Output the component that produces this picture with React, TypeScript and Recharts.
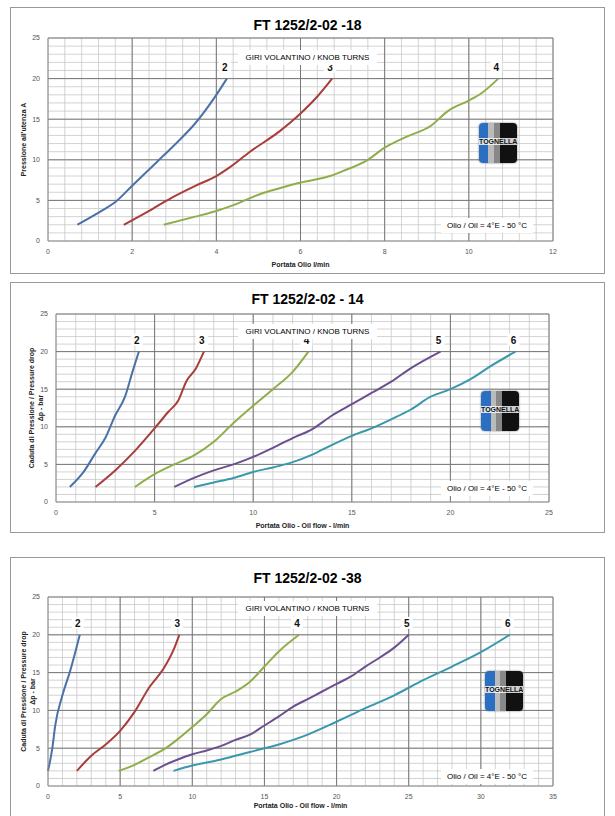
import React from 'react'
import { LineChart, Line, XAxis, YAxis, CartesianGrid, ReferenceLine, LabelList, Label } from 'recharts'

type Pt = { x: number; y: number }
const pts = (a: number[][]): Pt[] => a.map(([x, y]) => ({ x, y }))

// FT 1252/2-02 -18
const turns18 = ['2', '3', '4']
const ft18_2 = pts([[0.7, 2], [1.3, 3.8], [1.6, 4.8], [2, 6.8], [2.6, 9.8], [3, 11.8], [3.5, 14.5], [4, 18], [4.25, 20]])
const ft18_3 = pts([[1.8, 2], [2.5, 4], [3, 5.5], [3.5, 6.8], [4, 8], [4.3, 9], [4.8, 11], [5.5, 13.5], [6, 15.7], [6.4, 17.8], [6.75, 20]])
const ft18_4 = pts([[2.75, 2], [3.5, 3], [4, 3.7], [4.5, 4.6], [5, 5.7], [5.5, 6.5], [6, 7.2], [6.7, 8], [7, 8.6], [7.6, 10], [8, 11.5], [8.5, 12.8], [9.1, 14.2], [9.5, 16], [10, 17.3], [10.3, 18.2], [10.7, 20]])

// FT 1252/2-02 - 14
const turns14 = ['2', '3', '4', '5', '6']
const ft14_2 = pts([[0.7, 2], [1.4, 4], [2, 6.5], [2.5, 8.5], [3, 11.5], [3.5, 14], [3.9, 17.5], [4.2, 20]])
const ft14_3 = pts([[2, 2], [3, 4.2], [4, 6.8], [5, 9.8], [5.7, 12], [6.2, 13.5], [6.6, 16], [7.1, 17.8], [7.5, 20]])
const ft14_4 = pts([[4, 2], [5, 3.7], [6, 5], [7, 6.2], [8, 8], [9, 10.5], [10, 12.8], [11, 15], [12, 17.3], [12.8, 20]])
const ft14_5 = pts([[6, 2], [7, 3.2], [8, 4.2], [9, 5], [10, 6], [11, 7.2], [12, 8.5], [13, 9.7], [14, 11.5], [15, 13], [16, 14.5], [17, 16], [18, 17.8], [19.5, 20]])
const ft14_6 = pts([[7, 2], [8, 2.6], [9, 3.2], [10, 4], [11, 4.6], [12, 5.3], [13, 6.3], [14, 7.6], [15, 8.8], [16, 9.8], [17, 11], [18, 12.3], [19, 14], [20, 15], [21, 16.3], [22, 18], [23.3, 20]])

// FT 1252/2-02 -38
const turns38 = ['2', '3', '4', '5', '6']
const ft38_2 = pts([[0, 2], [0.3, 5], [0.5, 8], [1, 12], [1.5, 15], [2.2, 20]])
const ft38_3 = pts([[2, 2], [3, 4], [4, 5.5], [5, 7.3], [6, 9.8], [7, 13], [8, 15.5], [8.7, 18], [9.1, 20]])
const ft38_4 = pts([[4.9, 2], [6, 2.8], [7, 3.8], [8, 4.8], [9, 6.2], [10, 7.8], [11, 9.5], [12, 11.5], [13, 12.5], [14, 13.8], [15, 15.8], [16, 17.8], [17.4, 20]])
const ft38_5 = pts([[7.3, 2], [8, 2.7], [9, 3.5], [10, 4.2], [11, 4.7], [12, 5.3], [13, 6.1], [14, 6.8], [15, 8], [16, 9.2], [17, 10.5], [18, 11.5], [19, 12.5], [20, 13.5], [21, 14.5], [22, 15.8], [23, 17], [24, 18.3], [25, 20]])
const ft38_6 = pts([[8.7, 2], [10, 2.7], [12, 3.5], [14, 4.5], [16, 5.5], [18, 6.8], [20, 8.5], [22, 10.3], [24, 12], [26, 14], [28, 15.8], [30, 17.7], [32, 20]])

const colors = ['#4a72a8', '#a83d3a', '#8fae4b', '#6c4f8f', '#3a98ad']

const range = (max: number, step: number) => {
  const out: number[] = []
  for (let i = 0; i * step <= max + 1e-9; i++) out.push(+(i * step).toFixed(2))
  return out
}

const font = '"Liberation Sans", Arial, sans-serif'

const endLabel = (name: string, n: number) => (props: any) => {
  if (props.index !== n - 1) return null
  return (
    <g>
      <rect x={props.x - 8} y={props.y - 18} width={12} height={12} fill="#fff" />
      <text x={props.x - 2} y={props.y - 8} textAnchor="middle" fontSize={10} fontWeight="bold" fill="#111">
        {name}
      </text>
    </g>
  )
}

const YLab = ({ lines, viewBox }: any) => {
  const cx = viewBox.x + 8
  const cy = viewBox.y + viewBox.height / 2
  return (
    <text transform={`translate(${cx},${cy}) rotate(-90)`} textAnchor="middle" fontSize={7} fontWeight="bold" fill="#222">
      {lines.map((l: string, i: number) => (
        <tspan key={i} x={0} dy={i === 0 ? 0 : 9}>{l}</tspan>
      ))}
    </text>
  )
}

const Logo = ({ left, top }: { left: number; top: number }) => (
  <div style={{ position: 'absolute', left, top, width: 38, height: 40, borderRadius: 4, overflow: 'hidden',
    background: 'linear-gradient(90deg,#2a6fc2 0 25%,#bbb 25% 40%,#888 40% 55%,#111 55% 100%)', boxShadow: '0 0 2px #666' }}>
    <div style={{ position: 'absolute', top: 15, width: '100%', textAlign: 'center', fontSize: 7, fontWeight: 'bold',
      color: '#111', background: 'rgba(255,255,255,0.8)', fontFamily: font }}>TOGNELLA</div>
  </div>
)

type ChartProps = {
  top: number; height: number; title: string; series: Pt[][]; names: string[]
  xMax: number; xMajor: number; xMinor: number; xLabel: string; yLines: string[]; xAxisH: number
  margin: { top: number; right: number; left: number; bottom: number }
  titleTop: number; girTop: number; oilTop: number; logoTop: number; logoLeft: number; oilLeft: number
}

const Panel = (p: ChartProps) => {
  const xTicks = range(p.xMax, p.xMinor)
  const yTicks = range(25, 1)
  const xMaj = range(p.xMax, p.xMajor)
  const yMaj = range(25, 5)
  return (
    <div style={{ position: 'absolute', left: 10, top: p.top, width: 593, height: p.height, border: '1px solid #999', background: '#fff', fontFamily: font }}>
      <div style={{ position: 'absolute', top: p.titleTop, width: '100%', textAlign: 'center', fontSize: 14, fontWeight: 'bold' }}>{p.title}</div>
      <LineChart width={593} height={p.height} margin={p.margin} style={{ position: 'absolute', left: 0, top: 0 }}>
        <CartesianGrid stroke="#c8c8c8" strokeWidth={0.8} />
        <XAxis type="number" dataKey="x" domain={[0, p.xMax]} ticks={xTicks} interval={0} tickLine={false} axisLine={{ stroke: '#888' }}
          tick={{ fontSize: 7, fill: '#555' }} tickFormatter={(v: number) => (xMaj.includes(v) ? String(v) : '')} height={p.xAxisH}>
          <Label value={p.xLabel} position="insideBottom" offset={2} fontSize={7} fontWeight="bold" fill="#222" />
        </XAxis>
        <YAxis type="number" dataKey="y" domain={[0, 25]} ticks={yTicks} interval={0} tickLine={false} axisLine={{ stroke: '#888' }}
          tick={{ fontSize: 7, fill: '#555' }} tickFormatter={(v: number) => (yMaj.includes(v) ? String(v) : '')} width={30}
          label={<YLab lines={p.yLines} />} />
        {xMaj.slice(1).map((v) => <ReferenceLine key={'x' + v} x={v} stroke="#777" strokeWidth={1} />)}
        {yMaj.slice(1).map((v) => <ReferenceLine key={'y' + v} y={v} stroke="#777" strokeWidth={1} />)}
        {p.series.map((s, i) => (
          <Line key={i} data={s} dataKey="y" type="monotone" stroke={colors[i]} strokeWidth={2} dot={false} isAnimationActive={false}>
            <LabelList dataKey="y" content={endLabel(p.names[i], s.length)} />
          </Line>
        ))}
      </LineChart>
      <div style={{ position: 'absolute', top: p.girTop, left: 0, width: '100%', textAlign: 'center' }}>
        <span style={{ background: '#fff', padding: '3px 8px', fontSize: 8 }}>GIRI VOLANTINO / KNOB TURNS</span>
      </div>
      <div style={{ position: 'absolute', top: p.oilTop, left: p.oilLeft, background: '#fff', padding: '3px 6px', fontSize: 8 }}>
        Olio / Oil = 4°E - 50 °C
      </div>
      <Logo left={p.logoLeft} top={p.logoTop} />
    </div>
  )
}

export default function App() {
  return (
    <div style={{ position: 'absolute', left: 0, top: 0, width: 615, height: 816, overflow: 'hidden', background: '#fff' }}>
      <Panel top={7} height={265} title="FT 1252/2-02 -18" series={[ft18_2, ft18_3, ft18_4]} names={turns18} xAxisH={28}
        xMax={12} xMajor={2} xMinor={0.4} xLabel="Portata Olio l/min" yLines={["Pressione all'utenza A"]}
        margin={{ top: 30, right: 51, left: 7, bottom: 4 }} titleTop={9} girTop={38} oilTop={210} oilLeft={430}
        logoLeft={468} logoTop={115} />
      <Panel top={282} height={249} title="FT 1252/2-02 - 14" series={[ft14_2, ft14_3, ft14_4, ft14_5, ft14_6]} names={turns14} xAxisH={28}
        xMax={25} xMajor={5} xMinor={1} xLabel="Portata Olio - Oil flow -  l/min" yLines={['Caduta di Pressione / Pressure drop', 'Δp - bar']}
        margin={{ top: 31, right: 55, left: 15, bottom: 2 }} titleTop={8} girTop={37} oilTop={198} oilLeft={430}
        logoLeft={470} logoTop={108} />
      <Panel top={557} height={262} title="FT 1252/2-02 -38" series={[ft38_2, ft38_3, ft38_4, ft38_5, ft38_6]} names={turns38} xAxisH={24}
        xMax={35} xMajor={5} xMinor={1} xLabel="Portata Olio - Oil flow -  l/min" yLines={['Caduta di Pressione / Pressure drop', 'Δp - bar']}
        margin={{ top: 39, right: 51, left: 7, bottom: 10 }} titleTop={12} girTop={39} oilTop={211} oilLeft={430}
        logoLeft={474} logoTop={113} />
    </div>
  )
}
